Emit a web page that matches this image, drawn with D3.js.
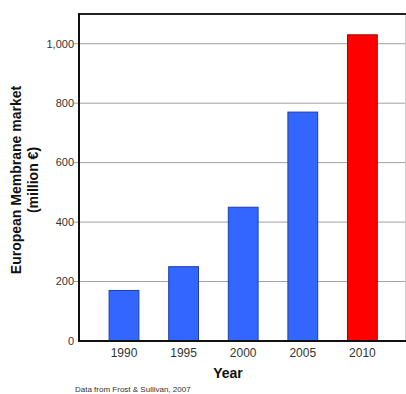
<!DOCTYPE html>
<html><head><meta charset="utf-8">
<script src="https://cdn.jsdelivr.net/npm/d3@7"></script>
<style>body{margin:0;background:#fff}svg{display:block}text{font-family:"Liberation Sans",Arial,sans-serif}</style>
</head><body><svg id="c" width="406" height="394"></svg>
<script>
const years = ["1990","1995","2000","2005","2010"];
const values = [170, 250, 450, 770, 1030];
const colors = ["#3366ff","#3366ff","#3366ff","#3366ff","#ff0000"];
const yTicks = [0, 200, 400, 600, 800, 1000];
const yTitle = ["European Membrane market", "(million €)"];
const xTitle = "Year";
const caption = "Data from Frost & Sullivan, 2007";

(function () {
const svg = d3.select("#c");
const pL = 79, pR = 406, pT = 14, pB = 341;
const y = d3.scaleLinear().domain([0, 1100]).range([pB, pT]);
const x = d3.scaleBand().domain(years).range([94.2, 392.2]).paddingInner(0.5).paddingOuter(0.25);

// gridlines
svg.append("g").selectAll("line").data(yTicks.filter(d => d > 0)).join("line")
  .attr("x1", pL - 5).attr("x2", pR).attr("y1", d => y(d)).attr("y2", d => y(d))
  .attr("stroke", "#a0a0a0").attr("stroke-width", 1);
// right light line
svg.append("line").attr("x1", 405.5).attr("x2", 405.5).attr("y1", pT).attr("y2", pB)
  .attr("stroke", "#cccccc");

// bars
svg.append("g").selectAll("rect").data(values).join("rect")
  .attr("x", (d, i) => x(years[i]))
  .attr("width", x.bandwidth())
  .attr("y", d => y(d))
  .attr("height", d => y(0) - y(d))
  .attr("fill", (d, i) => colors[i])
  .attr("stroke", (d, i) => i === 4 ? "#aa0000" : "#1f3fa8")
  .attr("stroke-width", 1);

// frame: top, left, bottom
svg.append("line").attr("x1", pL).attr("x2", pR).attr("y1", pT).attr("y2", pT)
  .attr("stroke", "#222").attr("stroke-width", 2);
svg.append("line").attr("x1", pL).attr("x2", pL).attr("y1", pT - 1).attr("y2", pB + 1)
  .attr("stroke", "#111").attr("stroke-width", 2);
svg.append("line").attr("x1", pL).attr("x2", pR).attr("y1", pB).attr("y2", pB)
  .attr("stroke", "#111").attr("stroke-width", 2);

// y axis labels
const fmt = d3.format(",");
svg.append("g").selectAll("text").data(yTicks).join("text")
  .attr("x", 74).attr("y", d => y(d)).attr("dy", "0.35em")
  .attr("text-anchor", "end").attr("font-size", 11).attr("fill", "#333")
  .text(d => fmt(d));

// x axis labels
svg.append("g").selectAll("text").data(years).join("text")
  .attr("x", d => x(d) + x.bandwidth() / 2).attr("y", 353).attr("dy", "0.35em")
  .attr("text-anchor", "middle").attr("font-size", 12).attr("fill", "#333")
  .text(d => d);

// titles
svg.append("text").attr("x", 228).attr("y", 373).attr("dy", "0.35em")
  .attr("text-anchor", "middle").attr("font-size", 14).attr("font-weight", "bold")
  .attr("fill", "#111").text(xTitle);
yTitle.forEach((t, i) => {
  svg.append("text").attr("transform", `translate(${16 + i * 17},180) rotate(-90)`)
    .attr("dy", "0.35em").attr("text-anchor", "middle").attr("font-size", 14)
    .attr("font-weight", "bold").attr("fill", "#111").text(t);
});
svg.append("text").attr("x", 75).attr("y", 389).attr("dy", "0.35em")
  .attr("font-size", 8).attr("fill", "#333").text(caption);
})();
</script></body></html>
